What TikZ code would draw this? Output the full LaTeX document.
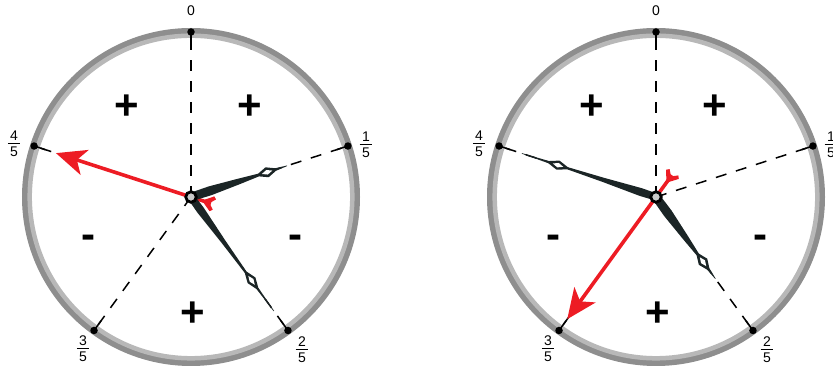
\documentclass[tikz,border=0pt]{standalone}
\usepackage{fontspec}
\setmainfont{Liberation Sans}
\usetikzlibrary{arrows.meta,calc}
\definecolor{ringdark}{HTML}{8E8E8E}
\definecolor{ringlight}{HTML}{B8B8B8}
\definecolor{handcol}{HTML}{1B2526}
\definecolor{arrowred}{HTML}{ED1C24}
\definecolor{hubgray}{HTML}{C9C9C9}
\newcommand\fr[2]{\shortstack{#1\\[-0.5pt]\rule{12.5pt}{1.1pt}\\[-0.5pt]#2}}
\tikzset{
  dotmark/.style={circle, fill=black, inner sep=0pt, minimum size=7.5pt},
  hubmark/.style={circle, draw=black, line width=2.8pt, fill=hubgray, inner sep=0pt, minimum size=10.5pt},
  dashline/.style={draw=black, line width=1.5pt, dash pattern=on 11pt off 10pt},
  tickline/.style={draw=black, line width=1.5pt},
  fraclbl/.style={font=\fontsize{14}{15}\selectfont, inner sep=0pt},
  zerolbl/.style={font=\fontsize{14}{16}\selectfont, inner sep=0pt},
  plussign/.style={font=\fontsize{42}{42}\selectfont\bfseries, inner sep=0pt, anchor=base},
  redhand/.style={draw=arrowred, line width=3.6pt, -{Stealth[length=30pt,width=26pt,inset=8pt]}},
}
% minute hand (long)
\newcommand\minutehand[2]{%
  \begin{scope}[shift={(#1)},rotate=#2]
    \fill[handcol] (0,3.6) -- (16,4) -- (55,2.2) -- (93,1.1) -- (103,4.8) -- (113,1.1)
      -- (141,0.3) -- (141,-0.3) -- (113,-1.1) -- (103,-4.8) -- (93,-1.1) -- (55,-2.2)
      -- (16,-4) -- (0,-3.6) -- cycle;
    \fill[white] (97.5,0) -- (103,2.3) -- (108.5,0) -- (103,-2.3) -- cycle;
  \end{scope}}
% hour hand (short)
\newcommand\hourhand[2]{%
  \begin{scope}[shift={(#1)},rotate=#2]
    \fill[handcol] (0,4.2) -- (20,4.6) -- (50,2.9) -- (71,1.4) -- (80,5.2) -- (89,1.3)
      -- (101,0.3) -- (101,-0.3) -- (89,-1.3) -- (80,-5.2) -- (71,-1.4) -- (50,-2.9)
      -- (20,-4.6) -- (0,-4.2) -- cycle;
    \fill[white] (74.5,0) -- (80,2.4) -- (85.5,0) -- (80,-2.4) -- cycle;
  \end{scope}}
% #1 prefix, #2 centre x, #3 red angle, #4 red length, #5 tail length, #6 hour angle, #7 minute angle
\newcommand\clockface[7]{%
  \coordinate (#1c) at (#2,172);
  \draw[ringdark, line width=6pt] (#1c) circle[radius=166];
  \draw[ringlight, line width=4.5pt] (#1c) circle[radius=161.3];
  \node[dotmark] (#1d0) at ($(#1c)+(90:165)$) {};
  \node[dotmark] (#1d1) at ($(#1c)+(18:165)$) {};
  \node[dotmark] (#1d2) at ($(#1c)+(-54:165)$) {};
  \node[dotmark] (#1d3) at ($(#1c)+(-126:165)$) {};
  \node[dotmark] (#1d4) at ($(#1c)+(162:165)$) {};
  \draw[dashline] (#1c) -- (#1d0.center);
  \draw[dashline] (#1c) -- (#1d1.center);
  \draw[dashline] (#1c) -- (#1d2.center);
  \draw[dashline] (#1c) -- (#1d3.center);
  \draw[dashline] (#1c) -- (#1d4.center);
  \draw[tickline] (#1d0.center) -- ($(#1d0.center)!12pt!(#1c)$);
  \draw[tickline] (#1d1.center) -- ($(#1d1.center)!12pt!(#1c)$);
  \draw[tickline] (#1d2.center) -- ($(#1d2.center)!12pt!(#1c)$);
  \draw[tickline] (#1d3.center) -- ($(#1d3.center)!12pt!(#1c)$);
  \draw[tickline] (#1d4.center) -- ($(#1d4.center)!12pt!(#1c)$);
  \node[zerolbl] (#1l0) at ($(#1d0)+(0,21)$) {0};
  \node[fraclbl] (#1l1) at ($(#1d1)+(18,1)$) {\fr{1}{5}};
  \node[fraclbl] (#1l2) at ($(#1d2)+(14,-19)$) {\fr{2}{5}};
  \node[fraclbl] (#1l3) at ($(#1d3)+(-11,-18)$) {\fr{3}{5}};
  \node[fraclbl] (#1l4) at ($(#1d4)+(-20,2)$) {\fr{4}{5}};
  \node[plussign] (#1s1) at ($(#1c)+(-64,77.6)$) {+};
  \node[plussign] (#1s2) at ($(#1c)+(59,77.6)$) {+};
  \node[plussign] (#1s3) at ($(#1c)+(-103,-51.5)$) {-};
  \node[plussign] (#1s4) at ($(#1c)+(104,-51.5)$) {-};
  \node[plussign] (#1s5) at ($(#1c)+(2,-129.4)$) {+};
  \coordinate (#1tip) at ($(#1c)+(#3:#4)$);
  \coordinate (#1tail) at ($(#1c)+(#3+180:#5)$);
  \draw[redhand] (#1tail) -- (#1tip);
  \begin{scope}[shift={(#1tail)}, rotate=#3+180]
    \fill[arrowred] (-7,1.8) -- (1,7.8) -- (3.6,5.4) -- (-1.5,0) -- (3.6,-5.4) -- (1,-7.8) -- (-7,-1.8) -- cycle;
  \end{scope}
  \hourhand{#1c}{#6}
  \minutehand{#1c}{#7}
  \node[hubmark] (#1h) at (#1c) {};
}
\begin{document}
\begin{tikzpicture}[x=1pt,y=1pt]
\useasboundingbox (0,0) rectangle (833,369);
\clockface{L}{191}{162}{142}{21}{18}{-54}
\clockface{R}{656}{-126}{151}{27}{-54}{162}
\end{tikzpicture}
\end{document}
